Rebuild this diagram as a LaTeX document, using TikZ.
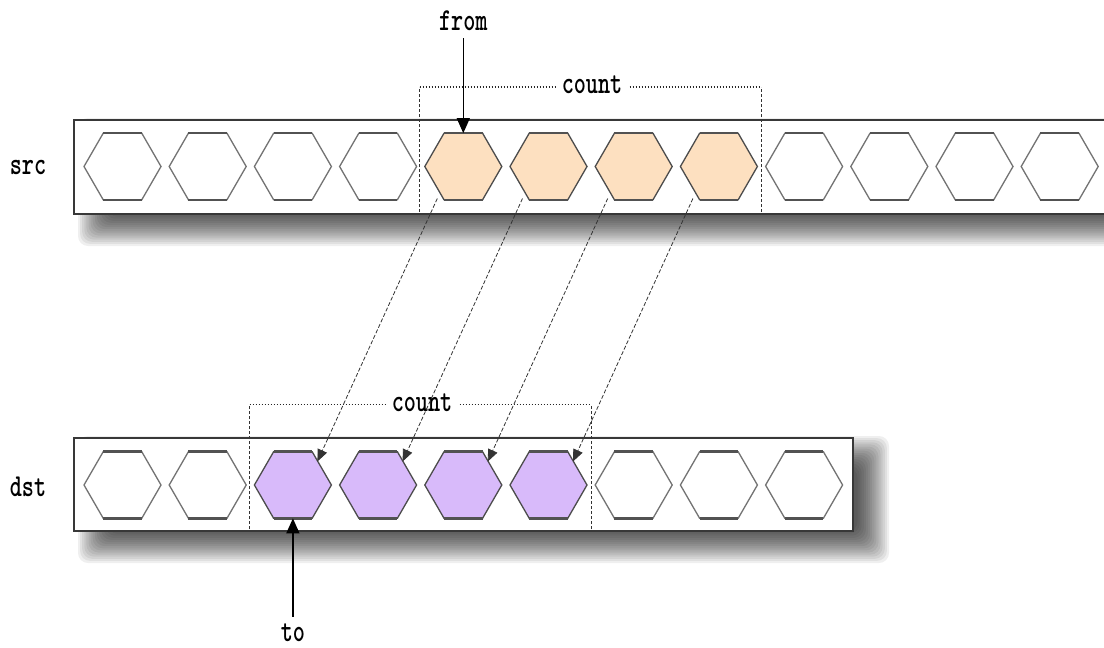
\documentclass[tikz,border=0pt]{standalone}
\usepackage{graphicx}
\usetikzlibrary{arrows.meta,calc,shapes.geometric}

\definecolor{peach}{HTML}{FDE0C0}
\definecolor{lilac}{HTML}{D8BAFA}

% monospaced labels, slightly condensed
\newcommand\ttlabel[1]{\scalebox{0.72}[1]{#1}}

% soft drop shadow built from stacked translucent rectangles
\newcommand\dropshade[4]{%
  \foreach \k in {0,...,15}{%
    \fill[black, opacity=0.062, rounded corners=10pt]
      ({#1-16+\k*2.1},{#2-16+\k*2.1}) rectangle ({#3+16-\k*2.1},{#4+16-\k*2.1});
  }%
}

\tikzset{
  hexcell/.style={regular polygon, regular polygon sides=6,
    minimum size=77pt, inner sep=0pt, outer sep=0pt,
    draw=black!55, line width=1.3pt, fill=white},
  srccell/.style={hexcell, fill=peach, draw=black!70},
  dstcell/.style={hexcell, fill=lilac, draw=black!70},
  bevel/.style={draw=black!68, line width=2.6pt},
  rowframe/.style={draw=black!78, line width=1.8pt, fill=white},
  lbl/.style={inner sep=2pt, font=\fontsize{32}{32}\selectfont\ttfamily\bfseries},
  spanside/.style={draw=black!80, line width=0.9pt, dash pattern=on 3pt off 2pt},
  spantop/.style={draw=black!85, line width=1.5pt, dash pattern=on 1.4pt off 1.6pt},
  copyline/.style={draw=black!80, line width=0.8pt, dash pattern=on 4pt off 2pt,
    -{Triangle[length=12pt,width=10pt]}},
  pointer/.style={draw=black, line width=1.4pt, -{Triangle[length=15pt,width=13pt]}},
}

\begin{document}
\begin{tikzpicture}[x=1pt, y=-1pt]
\useasboundingbox (0,0) rectangle (1104,648);
\clip (0,0) rectangle (1104,648);

% shadows under both rows
\dropshade{94}{134}{1170}{230}
\dropshade{94}{452}{873}{547}

% row frames
\draw[rowframe] (74,120) rectangle (1150,214);
\draw[rowframe] (74,438) rectangle (853,531);

% source cells
\foreach \i in {1,2,3,4,9,10,11,12}{
  \pgfmathsetmacro\cx{122.5+(\i-1)*85.2}
  \node[hexcell] (s\i) at (\cx,166.5) {};
}
\foreach \i in {5,...,8}{
  \pgfmathsetmacro\cx{122.5+(\i-1)*85.2}
  \node[srccell] (s\i) at (\cx,166.5) {};
}
% darker flat top and bottom edges
\foreach \i in {1,...,12}{
  \draw[bevel] (s\i.120) -- (s\i.60) (s\i.240) -- (s\i.300);
}

% destination cells
\foreach \i in {1,2,7,8,9}{
  \pgfmathsetmacro\cx{122.5+(\i-1)*85.2}
  \node[hexcell] (d\i) at (\cx,485) {};
}
\foreach \i in {3,...,6}{
  \pgfmathsetmacro\cx{122.5+(\i-1)*85.2}
  \node[dstcell] (d\i) at (\cx,485) {};
}
\foreach \i in {1,...,9}{
  \draw[bevel] (d\i.120) -- (d\i.60) (d\i.240) -- (d\i.300);
}

% row names
\node[lbl] (src) at (28,167) {\ttlabel{src}};
\node[lbl] (dst) at (28,487) {\ttlabel{dst}};

% span brackets
\coordinate (sa) at (419.5,212);
\coordinate (sb) at (419.5,87);
\coordinate (sc) at (761,87);
\coordinate (sd) at (761,212);
\draw[spanside] (sa) -- (sb);
\draw[spanside] (sd) -- (sc);
\draw[spantop] (sb) -- (sc);
\node[lbl, fill=white, inner xsep=6pt] (scount) at (592,85) {\ttlabel{count}};

\coordinate (da) at (249.5,529);
\coordinate (db) at (249.5,404.5);
\coordinate (dc) at (591,404.5);
\coordinate (dd) at (591,529);
\draw[spanside] (da) -- (db);
\draw[spanside] (dd) -- (dc);
\draw[spantop] (db) -- (dc);
\node[lbl, fill=white, inner xsep=6pt] (dcount) at (422,402.5) {\ttlabel{count}};

% element copies
\foreach \a/\b in {5/3,6/4,7/5,8/6}{
  \draw[copyline] ($(s\a.center)+(-26,32)$) -- ($(d\b.center)+(24.5,-23.5)$);
}

% index pointers
\node[lbl] (from) at (s5.center |- 0,21) {\ttlabel{from}};
\node[lbl] (to) at (d3.center |- 0,633) {\ttlabel{to}};
\draw[pointer, shorten <=5pt] (from.south) -- (s5.north);
\draw[pointer, shorten <=5pt] (to.north) -- (d3.south);
\end{tikzpicture}
\end{document}
